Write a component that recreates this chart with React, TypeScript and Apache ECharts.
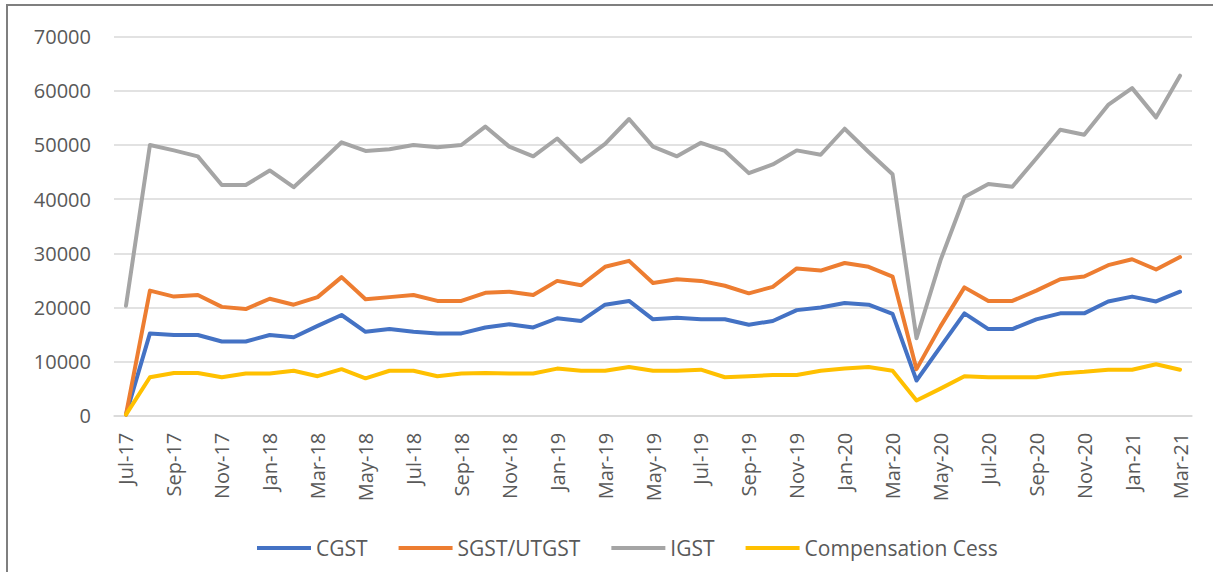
import React, { useEffect, useRef } from "react";
import * as echarts from "echarts";

const months = [
  "Jul-17", "Aug-17", "Sep-17", "Oct-17", "Nov-17", "Dec-17",
  "Jan-18", "Feb-18", "Mar-18", "Apr-18", "May-18", "Jun-18", "Jul-18", "Aug-18", "Sep-18", "Oct-18", "Nov-18", "Dec-18",
  "Jan-19", "Feb-19", "Mar-19", "Apr-19", "May-19", "Jun-19", "Jul-19", "Aug-19", "Sep-19", "Oct-19", "Nov-19", "Dec-19",
  "Jan-20", "Feb-20", "Mar-20", "Apr-20", "May-20", "Jun-20", "Jul-20", "Aug-20", "Sep-20", "Oct-20", "Nov-20", "Dec-20",
  "Jan-21", "Feb-21", "Mar-21",
];

const cgst = [
  200, 15200, 14900, 14900, 13700, 13700,
  14900, 14500, 16600, 18600, 15500, 16000, 15500, 15200, 15200, 16300, 16900, 16300,
  18000, 17500, 20500, 21200, 17800, 18100, 17800, 17800, 16800, 17500, 19500, 20000,
  20800, 20500, 18800, 6500, 12700, 18900, 16000, 16000, 17800, 18900, 18900, 21100,
  22000, 21100, 22900,
];

const sgst = [
  200, 23100, 22000, 22300, 20100, 19700,
  21600, 20500, 21900, 25600, 21500, 21900, 22300, 21200, 21200, 22700, 22900, 22300,
  24900, 24100, 27500, 28600, 24500, 25200, 24900, 24000, 22600, 23800, 27200, 26800,
  28200, 27500, 25700, 8600, 16500, 23700, 21200, 21200, 23100, 25200, 25700, 27800,
  28900, 27000, 29300,
];

const igst = [
  20300, 50000, 49000, 47900, 42600, 42600,
  45300, 42200, 46300, 50500, 48900, 49200, 50000, 49600, 50000, 53400, 49700, 47900,
  51200, 46900, 50200, 54800, 49700, 47900, 50400, 48900, 44800, 46400, 49000, 48200,
  53000, 48700, 44600, 14300, 28700, 40400, 42800, 42300, 47500, 52800, 51900, 57400,
  60500, 55100, 62800,
];

const cess = [
  200, 7100, 7900, 7900, 7100, 7800,
  7800, 8300, 7300, 8600, 6900, 8300, 8300, 7300, 7800, 7900, 7800, 7800,
  8700, 8300, 8300, 9000, 8300, 8300, 8500, 7100, 7300, 7500, 7500, 8300,
  8700, 9000, 8300, 2800, 5000, 7300, 7100, 7100, 7100, 7800, 8100, 8500,
  8500, 9500, 8500,
];

const seriesNames = ["CGST", "SGST/UTGST", "IGST", "Compensation Cess"];
const seriesColors = ["#4472C4", "#ED7D31", "#A5A5A5", "#FFC000"];
const seriesData = [cgst, sgst, igst, cess];

const FONT = "'Open Sans', sans-serif";
const TEXT_COLOR = "#595959";

export default function App() {
  const ref = useRef<HTMLDivElement>(null);

  useEffect(() => {
    if (!ref.current) return;
    const chart = echarts.init(ref.current, undefined, { renderer: "svg" });
    chart.setOption({
      animation: false,
      backgroundColor: "#ffffff",
      textStyle: { fontFamily: FONT },
      graphic: [
        {
          type: "line",
          shape: { x1: 6, y1: 5, x2: 1213, y2: 5 },
          style: { stroke: "#7f7f7f", lineWidth: 2 },
          silent: true,
        },
        {
          type: "line",
          shape: { x1: 7, y1: 4, x2: 7, y2: 572 },
          style: { stroke: "#7f7f7f", lineWidth: 2 },
          silent: true,
        },
      ],
      grid: { left: 114, right: 21, top: 36.7, bottom: 156.3 },
      legend: {
        data: seriesNames,
        left: 252,
        top: 531,
        icon: "rect",
        itemWidth: 54,
        itemHeight: 4,
        itemGap: 31,
        textStyle: { color: TEXT_COLOR, fontSize: 21, fontFamily: FONT, lineHeight: 24 },
      },
      xAxis: {
        type: "category",
        data: months,
        boundaryGap: true,
        axisLine: { lineStyle: { color: "#d9d9d9", width: 1.5 } },
        axisTick: { show: false },
        axisLabel: {
          rotate: 90,
          interval: 1,
          margin: 17,
          color: TEXT_COLOR,
          fontSize: 20,
          fontFamily: FONT,
        },
        splitLine: { show: false },
      },
      yAxis: {
        type: "value",
        min: 0,
        max: 70000,
        interval: 10000,
        axisLine: { show: false },
        axisTick: { show: false },
        axisLabel: {
          color: TEXT_COLOR,
          fontSize: 20,
          fontFamily: FONT,
          margin: 23,
          formatter: (v: number) => String(v),
        },
        splitLine: { lineStyle: { color: "#d9d9d9", width: 1.5 } },
      },
      series: seriesNames.map((name, i) => ({
        name,
        type: "line",
        data: seriesData[i],
        showSymbol: false,
        symbol: "none",
        lineStyle: { color: seriesColors[i], width: 4, join: "round", cap: "round" },
        itemStyle: { color: seriesColors[i] },
      })),
    });
    return () => chart.dispose();
  }, []);

  return (
    <div style={{ position: "fixed", left: 0, top: 0, width: 1213, height: 572, background: "#fff" }}>
      <div ref={ref} style={{ width: 1213, height: 572 }} />
    </div>
  );
}
